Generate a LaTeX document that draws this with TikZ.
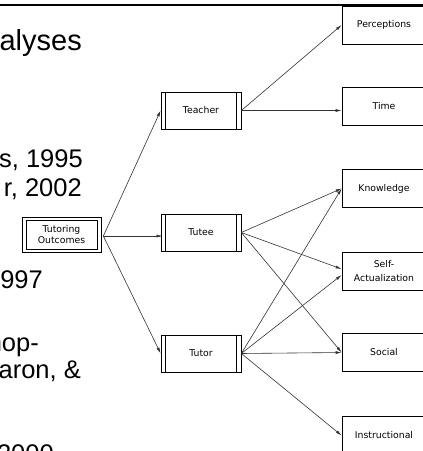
\documentclass[tikz,border=0pt]{standalone}
\usepackage{fontspec}
\setmainfont{Liberation Sans}
\newfontfamily\boxfont{DejaVu Sans}
\usetikzlibrary{arrows.meta}
\begin{document}
\begin{tikzpicture}[x=1pt,y=-1pt,
  bigtext/.style={anchor=base east, inner sep=0pt, font=\fontsize{25.5}{30}\selectfont, text=black},
  titletext/.style={anchor=base east, inner sep=0pt, font=\fontsize{29}{34}\selectfont, text=black},
  boxtext/.style={font=\boxfont\fontsize{9.3}{11}\selectfont, align=center, inner sep=1pt},
  rbox/.style={boxtext, draw=black, line width=0.7pt, minimum width=84pt, minimum height=38pt},
  pbox/.style={boxtext, draw=black, line width=0.7pt, minimum width=80pt, minimum height=37pt},
  obox/.style={boxtext, draw=black, line width=0.7pt, minimum width=79pt, minimum height=35pt},
  conn/.style={draw=black!80, line width=0.6pt, -{Latex[length=6pt,width=3pt]}}
]
\useasboundingbox (0,0) rectangle (423,451);
\clip (0,0) rectangle (423,451);
\fill[white] (0,0) rectangle (423,451);

% top rule
\draw[line width=2pt] (0,4.5) -- (423,4.5);

% left slide text (cut off)
\node[titletext] (t1) at (82,50) {alyses};
\node[bigtext] (t2) at (83,167) {s, 1995};
\node[bigtext] (t3) at (82,196) {r, 2002};
\node[bigtext] (t4) at (43,288) {997};
\node[bigtext] (t5) at (39,351) {hop-};
\node[bigtext] (t6) at (81,378) {aron, \&};
\node[bigtext] (t7) at (54,462) {2000};

% nodes
\node[obox] (TO) at (61.5,234.5) {Tutoring\\Outcomes};
\draw[line width=0.7pt] ([shift={(4.5pt,-3.5pt)}]TO.north west) rectangle ([shift={(-4.5pt,3.5pt)}]TO.south east);

\node[pbox] (Teacher) at (201,110.5) {Teacher};
\node[pbox] (Tutee) at (201,232.5) {Tutee};
\node[pbox] (Tutor) at (201,353.5) {Tutor};
\foreach \n in {Teacher,Tutee,Tutor}{
  \draw[line width=0.7pt] ([xshift=5pt]\n.north west) -- ([xshift=5pt]\n.south west);
  \draw[line width=0.7pt] ([xshift=-5pt]\n.north east) -- ([xshift=-5pt]\n.south east);
}

\node[rbox] (Perc) at (384,25) {Perceptions};
\node[rbox] (Time) at (384,106.5) {Time};
\node[rbox] (Know) at (384,188.5) {Knowledge};
\node[rbox, font=\boxfont\fontsize{9.3}{14}\selectfont] (Self) at (384,271) {Self-\\Actualization};
\node[rbox] (Soc) at (384,352.5) {Social};
\node[rbox] (Inst) at (384,435.5) {Instructional};

% connectors
\draw[conn] ([xshift=2pt,yshift=-1.5pt]TO.east) -- (Teacher.west);
\draw[conn] ([xshift=2pt,yshift=-1.5pt]TO.east) -- ([xshift=2pt,yshift=-1.5pt]TO.east -| Tutee.west);
\draw[conn] ([xshift=2pt,yshift=-1.5pt]TO.east) -- (Tutor.west);

\draw[conn] (Teacher.east) -- (Perc.west);
\draw[conn] (Teacher.east) -- (Teacher.east -| Time.west);

\draw[conn] (Tutee.east) -- (Know.west);
\draw[conn] (Tutee.east) -- ([yshift=2pt]Self.west);
\draw[conn] (Tutee.east) -- (Soc.west);

\draw[conn] (Tutor.east) -- (Know.west);
\draw[conn] (Tutor.east) -- ([yshift=-4pt]Self.west);
\draw[conn] (Tutor.east) -- (Soc.west);
\draw[conn] (Tutor.east) -- (Inst.west);
\end{tikzpicture}
\end{document}
